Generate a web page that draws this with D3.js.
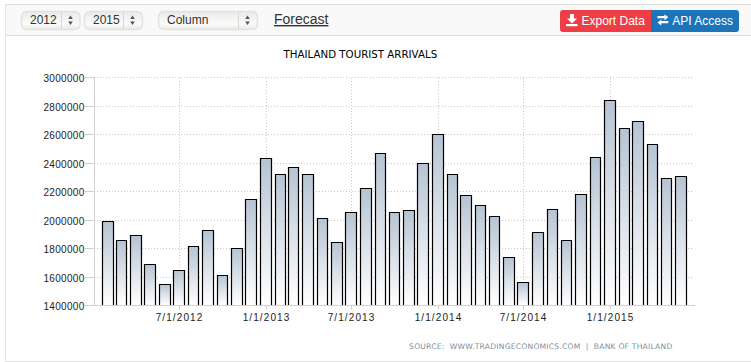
<!DOCTYPE html>
<html><head><meta charset="utf-8">
<script src="https://cdn.jsdelivr.net/npm/d3@7"></script>
<style>
html,body{margin:0;padding:0;background:#fff;overflow:hidden}
svg{display:block}
</style></head><body><svg id="c" width="751" height="362"></svg>
<script>
const startMonth = "2012-02-01";
const arrivals = [1992000,1859000,1894000,1690000,1550000,1648000,1817000,1929000,1613000,1803000,2147000,
2435000,2323000,2372000,2323000,2014000,1845000,2056000,2225000,2471000,2056000,2070000,2400000,
2604000,2323000,2175000,2105000,2028000,1740000,1564000,1915000,2077000,1859000,2182000,2443000,
2843000,2646000,2696000,2534000,2295000,2309000];
const yTicks = [1400000,1600000,1800000,2000000,2200000,2400000,2600000,2800000,3000000];
const xTickDates = ["2012-07-01","2013-01-01","2013-07-01","2014-01-01","2014-07-01","2015-01-01"];
const xTickLabels = ["7/1/2012","1/1/2013","7/1/2013","1/1/2014","7/1/2014","1/1/2015"];
const selects = [["2012",21.5,58.5,30],["2015",84.5,58,93],["Column",158.5,99,167]];
const titleText = "THAILAND TOURIST ARRIVALS";
const sourceText = "SOURCE:  WWW.TRADINGECONOMICS.COM  |  BANK OF THAILAND";

const parse = d3.utcParse("%Y-%m-%d");
const dates = arrivals.map((_,i)=>d3.utcMonth.offset(parse(startMonth),i));
const x = d3.scaleUtc().domain([parse("2012-07-01"),parse("2015-01-01")]).range([179.5,610.5]);
const y = d3.scaleLinear().domain([1400000,3000000]).range([305.6,77.9]);
const snap = v => Math.floor(v)+.5;
const svg = d3.select("#c");
const sans = "'Liberation Sans',Arial,sans-serif";

// frame
svg.append("rect").attr("x",5).attr("y",4.5).attr("width",746).attr("height",31).attr("fill","#f9f9f9");
[4.5,35.5,361.5].forEach(yy=>svg.append("line").attr("x1",5).attr("x2",751).attr("y1",yy).attr("y2",yy).attr("stroke","#dedede"));
svg.append("line").attr("x1",5.5).attr("x2",5.5).attr("y1",4).attr("y2",362).attr("stroke","#e6e6e6");

// selects
const defs = svg.append("defs");
const sg = defs.append("linearGradient").attr("id","sel").attr("x1",0).attr("x2",0).attr("y1",0).attr("y2",1);
sg.append("stop").attr("offset",0).attr("stop-color","#e9e9e6");
sg.append("stop").attr("offset",.7).attr("stop-color","#fbfbfb");
sg.append("stop").attr("offset",1).attr("stop-color","#e8e8e5");
selects.forEach(([t,sx,w,tx])=>{
  const g = svg.append("g");
  g.append("rect").attr("x",sx).attr("y",11.5).attr("width",w).attr("height",18).attr("rx",5).attr("fill","url(#sel)").attr("stroke","#e2e2de").attr("stroke-width",1.4);
  g.append("text").attr("x",tx).attr("y",24).attr("font-family",sans).attr("font-size",12).attr("fill","#333").text(t);
  const sep = Math.floor(sx+w-18.7)+.5;
  g.append("line").attr("x1",sep).attr("x2",sep).attr("y1",12).attr("y2",29).attr("stroke","#d8d8d4");
  const cx = sep+9;
  g.append("path").attr("d",`M${cx-2.3} 19 L${cx} 15.5 L${cx+2.3} 19Z M${cx-2.3} 21.5 L${cx} 25 L${cx+2.3} 21.5Z`).attr("fill","#555");
});
svg.append("text").attr("x",274).attr("y",24).attr("font-family",sans).attr("font-size",14).attr("fill","#333").attr("text-decoration","underline").text("Forecast");

// buttons
svg.append("path").attr("d","M651 10 H563 a3 3 0 0 0 -3 3 V29 a3 3 0 0 0 3 3 H651Z").attr("fill","#ee3d45");
svg.append("path").attr("d","M651 10 H736 a3 3 0 0 1 3 3 V29 a3 3 0 0 1 -3 3 H651Z").attr("fill","#1c75b8");
svg.append("path").attr("d","M570 14 h4 v4.5 h3 l-5 5 l-5 -5 h3Z M566 24 h11.5 v2.2 h-11.5Z").attr("fill","#fff");
svg.append("text").attr("x",581.5).attr("y",25).attr("font-family",sans).attr("font-size",12).attr("fill","#fff").text("Export Data");
svg.append("path").attr("d","M657.5 16 h7 v-1.8 l3.8 3 l-3.8 3 v-1.9 h-7Z M668.3 21 h-7 v-1.5 l-3.8 3 l3.8 3 v-2.2 h7Z").attr("fill","#fff");
svg.append("text").attr("x",672.3).attr("y",25).attr("font-family",sans).attr("font-size",12).attr("fill","#fff").text("API Access");

// title
svg.append("text").attr("x",360.4).attr("y",58).attr("text-anchor","middle").attr("font-family","'DejaVu Sans',sans-serif").attr("font-size",10.25).attr("fill","#000").text(titleText);

// grid
const grid = svg.append("g").attr("stroke","#c8c8c8").attr("stroke-dasharray","1,2");
yTicks.slice(1).forEach(t=>grid.append("line").attr("x1",94).attr("x2",693).attr("y1",snap(y(t))).attr("y2",snap(y(t))));
xTickDates.forEach(t=>grid.append("line").attr("x1",snap(x(parse(t)))).attr("x2",snap(x(parse(t)))).attr("y1",78).attr("y2",305));

// axes
const yAxis = d3.axisLeft(y).tickValues(yTicks).tickFormat(d3.format("d")).tickSize(10).tickPadding(0);
const gy = svg.append("g").attr("transform","translate(94.5,0)").call(yAxis);
gy.select(".domain").attr("stroke","#d0d0d0").attr("d",`M0 ${snap(y(3000000))} V${snap(y(1400000))}`);
gy.selectAll(".tick").attr("transform",d=>`translate(0,${snap(y(d))})`);
gy.selectAll("line").attr("stroke","#d0d0d0");
gy.selectAll("text").attr("font-family",sans).attr("font-size",10).attr("fill","#222").attr("letter-spacing",".3px").attr("y",.6).attr("dy",".35em");
const xAxis = d3.axisBottom(x).tickValues(xTickDates.map(parse)).tickFormat((d,i)=>xTickLabels[i]).tickSize(4).tickPadding(4);
const gx = svg.append("g").attr("transform","translate(0,305.5)").call(xAxis);
gx.select(".domain").attr("stroke","#d0d0d0").attr("d","M94 0 H695");
gx.selectAll(".tick").attr("transform",d=>`translate(${snap(x(d))},0)`);
gx.selectAll("line").attr("stroke","#d0d0d0");
gx.selectAll("text").attr("font-family",sans).attr("font-size",10).attr("fill","#222").attr("letter-spacing","1.1px");

// bars
const bg = defs.append("linearGradient").attr("id","bar").attr("x1",0).attr("x2",0).attr("y1",0).attr("y2",1);
bg.append("stop").attr("offset",0).attr("stop-color","#b6c4d3");
bg.append("stop").attr("offset",1).attr("stop-color","#ffffff");
svg.append("g").selectAll("path").data(arrivals).join("path")
  .attr("d",(d,i)=>{const c=x(dates[i]), l=Math.round(c-6.3)+.5, r=Math.round(c+4.3)+.5, t=snap(y(d)), b=305;
    return `M${l} ${b} V${t} H${r} V${b}`;})
  .attr("fill","url(#bar)").attr("stroke","#000").attr("stroke-width",1.2);

// source
svg.append("text").attr("x",672.5).attr("y",349).attr("text-anchor","end").attr("font-family","'DejaVu Sans',sans-serif").attr("font-size",7.6).attr("letter-spacing",".22px").attr("fill","#808e9e").style("white-space","pre").text(sourceText);
</script></body></html>
